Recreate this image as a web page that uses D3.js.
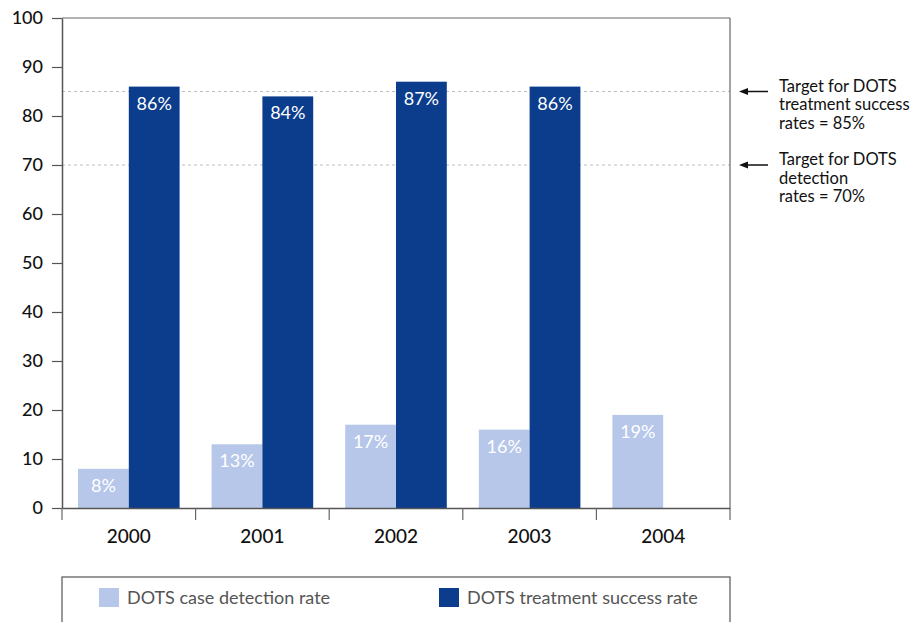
<!DOCTYPE html>
<html>
<head>
<meta charset="utf-8">
<script src="https://cdn.jsdelivr.net/npm/d3@7"></script>
<style>
  body { margin: 0; background: #fff; }
  text { font-family: Lato, "Open Sans", sans-serif; }
</style>
</head>
<body>
<div class="chart"></div>
<script>
var years = ["2000", "2001", "2002", "2003", "2004"];
var detectionRate = [8, 13, 17, 16, 19];
var successRate = [86, 84, 87, 86, null];
var seriesNames = ["DOTS case detection rate", "DOTS treatment success rate"];
var seriesColors = ["#b6c7ea", "#0b3d8c"];
var yTicks = [0, 10, 20, 30, 40, 50, 60, 70, 80, 90, 100];
var targets = [
  { value: 85, lines: ["Target for DOTS", "treatment success", "rates = 85%"] },
  { value: 70, lines: ["Target for DOTS", "detection", "rates = 70%"] }
];

var width = 913, height = 622;
var plotLeft = 62, plotRight = 730, plotTop = 18, plotBottom = 508;

var svg = d3.select(".chart").append("svg")
  .attr("width", width).attr("height", height);

var x = d3.scaleBand().domain(years).range([plotLeft, plotRight]);
var xInner = d3.scaleBand().domain([0, 1]).range([16, x.bandwidth() - 16]);
var y = d3.scaleLinear().domain([0, 100]).range([plotBottom, plotTop]);

// target lines
svg.selectAll(".target").data(targets).enter()
  .append("line")
  .attr("x1", plotLeft).attr("x2", plotRight)
  .attr("y1", function(d){ return y(d.value); })
  .attr("y2", function(d){ return y(d.value); })
  .attr("stroke", "#bdbdbd").attr("stroke-width", 1)
  .attr("stroke-dasharray", "3,3");

// bars
var rows = years.map(function(yr, i){
  return { year: yr, vals: [detectionRate[i], successRate[i]] };
});
var groups = svg.selectAll(".yr").data(rows).enter()
  .append("g").attr("transform", function(d){ return "translate(" + x(d.year) + ",0)"; });

var bars = groups.selectAll("g.bar")
  .data(function(d){ return d.vals.map(function(v, k){ return { k: k, v: v }; }).filter(function(e){ return e.v != null; }); })
  .enter().append("g").attr("class", "bar");

bars.append("rect")
  .attr("x", function(d){ return xInner(d.k); })
  .attr("width", xInner.bandwidth())
  .attr("y", function(d){ return y(d.v); })
  .attr("height", function(d){ return y(0) - y(d.v); })
  .attr("fill", function(d){ return seriesColors[d.k]; });

bars.append("text")
  .attr("x", function(d){ return xInner(d.k) + xInner.bandwidth() / 2; })
  .attr("y", function(d){ return y(d.v) + 23; })
  .attr("text-anchor", "middle")
  .attr("fill", "#fff")
  .attr("font-size", 18)
  .text(function(d){ return d.v + "%"; });

// frame top + right
svg.append("line").attr("x1", plotLeft).attr("x2", plotRight).attr("y1", plotTop).attr("y2", plotTop)
  .attr("stroke", "#666").attr("stroke-width", 1.2);
svg.append("line").attr("x1", plotRight).attr("x2", plotRight).attr("y1", plotTop).attr("y2", plotBottom)
  .attr("stroke", "#666").attr("stroke-width", 1.2);

// y axis
var yAxis = svg.append("g").attr("transform", "translate(" + plotLeft + ",0)")
  .call(d3.axisLeft(y).tickValues(yTicks).tickSize(10).tickPadding(9).tickSizeOuter(0));
yAxis.select(".domain").attr("stroke", "#555").attr("stroke-width", 1.5);
yAxis.selectAll(".tick line").attr("stroke", "#555").attr("stroke-width", 1.2);
yAxis.selectAll(".tick text").attr("font-size", 18).attr("fill", "#111")
  .attr("font-family", "Lato, sans-serif").attr("font-weight", 500);

// x axis
var xAxis = svg.append("g").attr("transform", "translate(0," + plotBottom + ")")
  .call(d3.axisBottom(x).tickSize(0).tickPadding(22).tickSizeOuter(0));
xAxis.select(".domain").attr("stroke", "#555").attr("stroke-width", 1.5);
xAxis.selectAll(".tick text").attr("font-size", 19).attr("fill", "#111")
  .attr("font-family", "Lato, sans-serif").attr("font-weight", 500);
var bounds = years.map(function(yr){ return x(yr); }).concat([plotRight]);
svg.selectAll(".xsep").data(bounds).enter().append("line")
  .attr("x1", function(d){ return d; }).attr("x2", function(d){ return d; })
  .attr("y1", plotBottom).attr("y2", plotBottom + 12)
  .attr("stroke", "#666").attr("stroke-width", 1.2);

// target annotations
var ann = svg.selectAll(".ann").data(targets).enter().append("g")
  .attr("transform", function(d){ return "translate(0," + y(d.value) + ")"; });
ann.append("line").attr("x1", 744).attr("x2", 768).attr("y1", 0).attr("y2", 0)
  .attr("stroke", "#111").attr("stroke-width", 1.5);
ann.append("path").attr("d", "M739,0 L748,-3.5 L748,3.5 Z").attr("fill", "#111");
ann.append("text")
  .attr("x", 779).attr("y", 0)
  .attr("font-size", 16.5).attr("fill", "#111")
  .selectAll("tspan").data(function(d){ return d.lines; }).enter()
  .append("tspan")
  .attr("x", 779)
  .attr("y", function(d, i){ return i * 18.5; })
  .text(function(d){ return d; });

// legend
svg.append("rect").attr("x", plotLeft).attr("y", 577).attr("width", plotRight - plotLeft).attr("height", 60)
  .attr("fill", "none").attr("stroke", "#555").attr("stroke-width", 1.2);
var legendX = [99, 439];
var leg = svg.selectAll(".leg").data(seriesNames).enter().append("g")
  .attr("transform", function(d, i){ return "translate(" + legendX[i] + ",588)"; });
leg.append("rect").attr("width", 20).attr("height", 19)
  .attr("fill", function(d, i){ return seriesColors[i]; });
leg.append("text").attr("x", 28).attr("y", 16)
  .attr("font-size", 18).attr("fill", "#555")
  .text(function(d){ return d; });
</script>
</body>
</html>
